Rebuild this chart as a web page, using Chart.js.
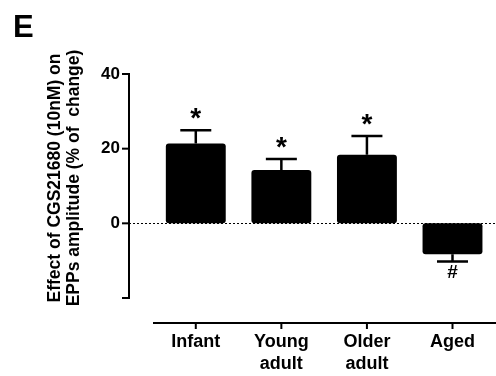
<!DOCTYPE html>
<html>
<head>
<meta charset="utf-8">
<title>CGS21680 effect on EPP amplitude</title>
<script src="https://cdn.jsdelivr.net/npm/chart.js"></script>
<style>
  html, body { margin: 0; padding: 0; overflow: hidden; background: #fff; }
  #wrap { position: relative; width: 510px; height: 376px; }
  #panel {
    position: absolute; left: 13px; top: 11px;
    font: bold 31px "Liberation Sans", Arial, sans-serif; line-height: 1; color: #000;
  }
</style>
</head>
<body>
<div id="wrap">
  <canvas id="chart" width="510" height="376"></canvas>
  <div id="panel">E</div>
</div>
<script>
// Age groups (multi-line labels) and the mean % change with SEM per group
const categories = [['Infant'], ['Young', 'adult'], ['Older', 'adult'], ['Aged']];
const meanChange = [21.4, 14.3, 18.4, -8.3];
const semChange = [3.5, 2.9, 5.0, 1.9];
const significance = ['*', '*', '*', '#'];
const yMin = -20;
const yMax = 40;
const yStep = 20;
const yTitle = ['Effect of CGS21680 (10nM) on', 'EPPs amplitude (% of  change)'];

const FONT = '"Liberation Sans", Arial, sans-serif';

// Offset (Prism-style) axes, dotted zero line, error bars, significance marks and axis title
const prismAxes = {
  id: 'prismAxes',
  beforeDatasetsDraw(chart) {
    const { ctx, chartArea, scales: { y } } = chart;
    const axisX = chartArea.left - 24;
    const y0 = Math.round(y.getPixelForValue(0)) + 0.5;
    ctx.save();
    ctx.strokeStyle = '#000';
    ctx.lineWidth = 1;
    ctx.setLineDash([2, 2]);
    ctx.beginPath();
    ctx.moveTo(axisX, y0);
    ctx.lineTo(chart.width, y0);
    ctx.stroke();
    ctx.restore();
  },
  afterDatasetsDraw(chart) {
    const { ctx, chartArea, scales: { x, y } } = chart;
    const axisX = chartArea.left - 24;
    const axisY = chartArea.bottom + 25;
    ctx.save();
    ctx.strokeStyle = '#000';
    ctx.fillStyle = '#000';
    ctx.lineCap = 'butt';

    // y axis with ticks
    ctx.lineWidth = 2;
    ctx.beginPath();
    ctx.moveTo(axisX, y.getPixelForValue(yMax) - 1);
    ctx.lineTo(axisX, y.getPixelForValue(yMin) + 1);
    ctx.stroke();
    y.ticks.forEach(t => {
      const py = y.getPixelForValue(t.value);
      ctx.beginPath();
      ctx.moveTo(axisX - 7, py);
      ctx.lineTo(axisX, py);
      ctx.stroke();
    });

    // x axis with category ticks
    ctx.beginPath();
    ctx.moveTo(chartArea.left, axisY);
    ctx.lineTo(chart.width, axisY);
    ctx.stroke();
    categories.forEach((c, i) => {
      const px = x.getPixelForValue(i);
      ctx.beginPath();
      ctx.moveTo(px, axisY);
      ctx.lineTo(px, axisY + 6);
      ctx.stroke();
    });

    // error bars (one-sided, away from zero) and significance marks
    ctx.lineWidth = 2.5;
    meanChange.forEach((m, i) => {
      const px = x.getPixelForValue(i);
      const dir = m >= 0 ? 1 : -1;
      const pBar = y.getPixelForValue(m);
      const pErr = y.getPixelForValue(m + dir * semChange[i]);
      ctx.beginPath();
      ctx.moveTo(px, pBar);
      ctx.lineTo(px, pErr);
      ctx.moveTo(px - 15.5, pErr);
      ctx.lineTo(px + 15.5, pErr);
      ctx.stroke();

      const mark = significance[i];
      ctx.font = mark === '*' ? `bold 28px ${FONT}` : `bold 19px ${FONT}`;
      ctx.textAlign = 'center';
      ctx.textBaseline = 'alphabetic';
      const mt = ctx.measureText(mark);
      const centerY = dir > 0 ? pErr - 16.7 : pErr + 10.5;
      const base = centerY + (mt.actualBoundingBoxAscent - mt.actualBoundingBoxDescent) / 2;
      ctx.fillText(mark, px, base);
    });

    // rotated two-line y-axis title
    ctx.font = `bold 17.5px ${FONT}`;
    ctx.textAlign = 'center';
    ctx.textBaseline = 'middle';
    const midY = (chartArea.top + chartArea.bottom) / 2 - 8;
    yTitle.forEach((line, k) => {
      ctx.save();
      ctx.translate(55 + k * 19.5, midY);
      ctx.rotate(-Math.PI / 2);
      ctx.fillText(line, 0, 0);
      ctx.restore();
    });
    ctx.restore();
  }
};

new Chart(document.getElementById('chart'), {
  type: 'bar',
  data: {
    labels: categories,
    datasets: [{
      data: meanChange,
      backgroundColor: '#000',
      borderWidth: 0,
      borderRadius: 3,
      borderSkipped: false,
      barPercentage: 0.7,
      categoryPercentage: 1.0
    }]
  },
  options: {
    responsive: false,
    animation: false,
    devicePixelRatio: 1,
    layout: { padding: { top: 74, left: 0, right: 8, bottom: 0 } },
    plugins: { legend: { display: false }, tooltip: { enabled: false }, title: { display: false } },
    scales: {
      x: {
        type: 'category',
        offset: true,
        grid: { display: false, drawTicks: false },
        border: { display: false },
        ticks: {
          color: '#000',
          font: { family: FONT, size: 18, weight: 'bold', lineHeight: 1.17 },
          padding: 34,
          maxRotation: 0,
          autoSkip: false
        },
        afterFit: s => { s.height = 78; }
      },
      y: {
        min: yMin,
        max: yMax,
        grid: { display: false, drawTicks: false },
        border: { display: false },
        ticks: {
          stepSize: yStep,
          color: '#000',
          font: { family: FONT, size: 17, weight: 'bold' },
          padding: 33,
          callback: v => (v === yMin ? '' : v)
        },
        afterFit: s => { s.width = 153; }
      }
    }
  },
  plugins: [prismAxes]
});
</script>
</body>
</html>
